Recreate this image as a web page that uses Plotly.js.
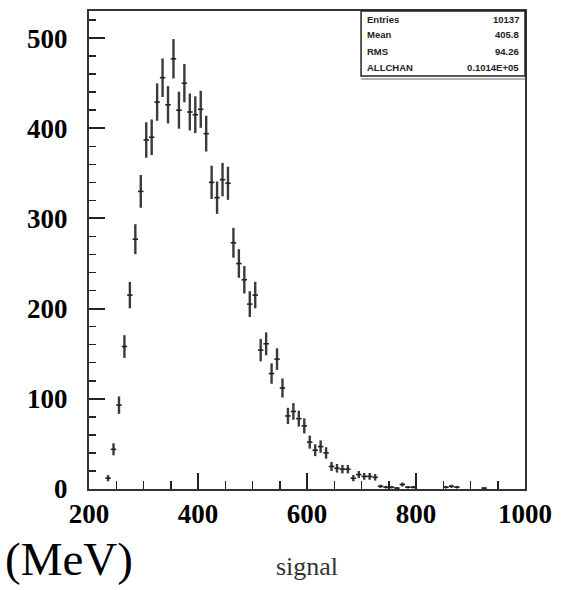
<!DOCTYPE html>
<html>
<head>
<meta charset="utf-8">
<script src="https://cdn.plot.ly/plotly-3.0.1.min.js"></script>
<style>html,body{margin:0;padding:0;background:#fff;}#chart{width:570px;height:590px;}</style>
</head>
<body>
<div id="chart"></div>
<script>
// Histogram bin centres (MeV) and counts
const binCenters = [235,245,255,265,275,285,295,305,315,325,335,345,355,365,375,385,395,405,415,425,
  435,445,455,465,475,485,495,505,515,525,535,545,555,565,575,585,595,605,615,625,
  635,645,655,665,675,685,695,705,715,725,735,745,755,765,775,785,795,855,865,875,925];
const counts = [12,44,93,158,215,277,330,387,390,429,456,426,477,420,450,418,415,421,394,340,
  323,343,339,273,250,232,205,215,154,161,128,144,112,81,86,78,70,52,43,47,
  40,25,23,22,22,12,16,14,14,13,3,2,2,1,5,2,2,2,3,2,1];
const binHalfWidth = 5;

const xTickVals = [200,400,600,800,1000];
const yTickVals = [0,100,200,300,400,500];

const statLabels = ["Entries","Mean","RMS","ALLCHAN"];
const statValues = ["10137","405.8","94.26","0.1014E+05"];

const trace = {
  x: binCenters, y: counts, type: 'scatter', mode: 'markers',
  marker: {size: 2, color: 'rgba(0,0,0,0)'},
  error_y: {type: 'sqrt', visible: true, width: 0, thickness: 2.4, color: '#3a3a3a'},
  error_x: {type: 'constant', value: binHalfWidth, visible: true, width: 0, thickness: 1.6, color: '#222'},
  hoverinfo: 'x+y'
};

const rowY = [0.983, 0.950, 0.916, 0.882];
const annotations = [];
statLabels.forEach((t, i) => {
  annotations.push({xref:'paper', yref:'paper', x:0.634, y:rowY[i], xanchor:'left', yanchor:'middle',
    text:t, showarrow:false, font:{family:'Liberation Sans', size:9.5, color:'#222', weight:'bold'}});
  annotations.push({xref:'paper', yref:'paper', x:0.991, y:rowY[i], xanchor:'right', yanchor:'middle',
    text:statValues[i], showarrow:false, font:{family:'Liberation Sans', size:9.5, color:'#222', weight:'bold'}});
});
annotations.push({xref:'paper', yref:'paper', x:-0.197, y:-0.147, xanchor:'left', yanchor:'middle',
  text:'(MeV)', showarrow:false, font:{family:'Liberation Serif', size:47, color:'#000'}});

const layout = {
  width: 570, height: 590,
  margin: {l: 89, r: 45, t: 11, b: 101},
  paper_bgcolor: '#fff', plot_bgcolor: '#fff',
  showlegend: false,
  xaxis: {
    range: [200, 1000], tickmode: 'array', tickvals: xTickVals, ticktext: xTickVals.map(String),
    ticks: 'inside', ticklen: 16, tickwidth: 2, tickcolor: '#222',
    minor: {dtick: 50, tick0: 200, ticks: 'inside', ticklen: 8, tickwidth: 1.5, tickcolor: '#222', showgrid: false},
    showgrid: false, zeroline: false,
    showline: true, linecolor: '#333', linewidth: 2, mirror: true,
    tickfont: {family: 'Liberation Serif', size: 27, color: '#000', weight: 'bold'},
    ticklabelstandoff: 0,
    title: {text: 'signal', font: {family: 'Liberation Serif', size: 26, color: '#333'}, standoff: 28}
  },
  yaxis: {
    range: [0, 530], tickmode: 'array', tickvals: yTickVals, ticktext: yTickVals.map(String),
    ticks: 'inside', ticklen: 16, tickwidth: 2, tickcolor: '#222',
    minor: {dtick: 20, tick0: 0, ticks: 'inside', ticklen: 7, tickwidth: 1.5, tickcolor: '#222', showgrid: false},
    showgrid: false, zeroline: false,
    showline: true, linecolor: '#333', linewidth: 2, mirror: true,
    tickfont: {family: 'Liberation Serif', size: 27, color: '#000', weight: 'bold'},
    ticklabelstandoff: 14
  },
  shapes: [
    {type: 'rect', xref: 'paper', yref: 'paper', x0: 0.624, x1: 1.0, y0: 0.864, y1: 1.0,
      line: {color: '#222', width: 1.5}, fillcolor: '#fff', layer: 'above'},
    {type: 'line', xref: 'paper', yref: 'paper', x0: 0.624, x1: 1.0, y0: 0.858, y1: 0.858,
      line: {color: '#999', width: 1.5}, layer: 'above'}
  ],
  annotations: annotations
};

Plotly.newPlot('chart', [trace], layout, {displayModeBar: false, staticPlot: true});
</script>
</body>
</html>
